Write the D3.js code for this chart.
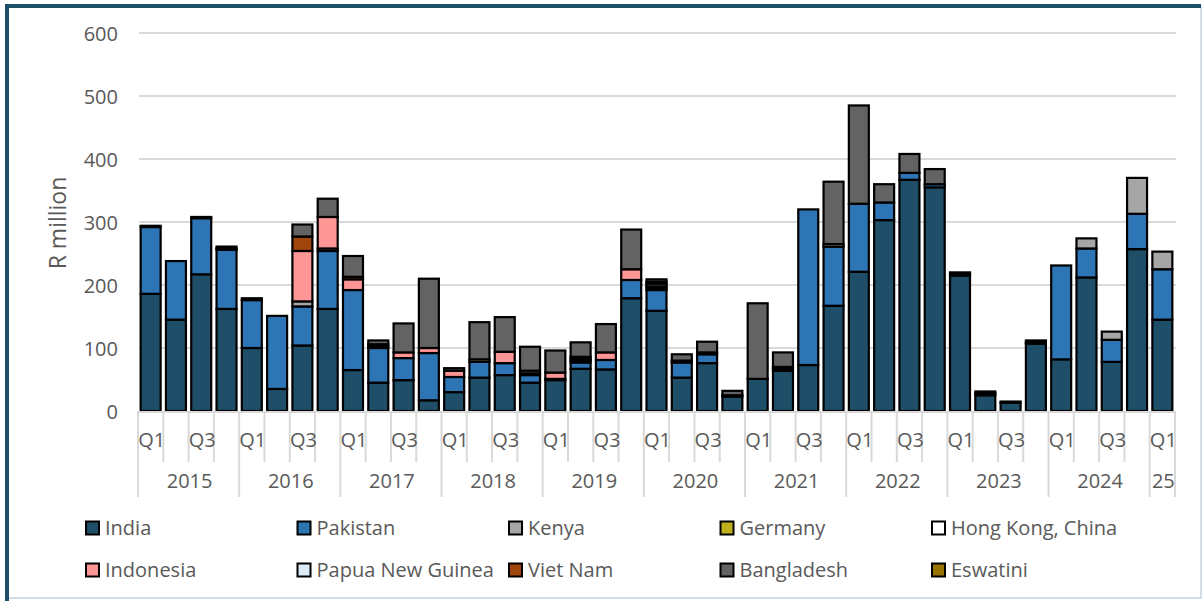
<!DOCTYPE html>
<html>
<head>
<meta charset="utf-8">
<script src="https://cdn.jsdelivr.net/npm/d3@7"></script>
<style>
  html, body { margin: 0; padding: 0; background: #ffffff; }
  svg { display: block; font-family: "Open Sans", "DejaVu Sans", sans-serif; }
</style>
</head>
<body>
<svg id="chart" width="1203" height="601"></svg>
<script>
// ---------- DATA ----------
const years = ["2015","2016","2017","2018","2019","2020","2021","2022","2023","2024","25"];
const quarterNames = ["Q1","Q2","Q3","Q4"];
const yTicks = [0,100,200,300,400,500,600];
const seriesNames = ["India","Pakistan","Kenya","Germany","Hong Kong, China","Indonesia","Papua New Guinea","Viet Nam","Bangladesh","Eswatini"];
const seriesColors = ["#1F4E69","#2E75B6","#A6A6A6","#BFB21F","#FFFFFF","#FF9696","#DDEBF7","#A0450C","#636363","#997300"];

const india      = [186,145,217,162, 100,35,104,162, 65,45,49,17, 30,53,57,45, 49,67,66,179, 159,53,76,23, 51,64,73,167, 221,303,367,355, 215,25,13,107, 82,212,78,257, 145];
const pakistan   = [106,93,89,94, 76,116,62,92, 127,55,35,75, 24,25,19,12, 0,10,15,29, 33,24,14,0, 0,0,247,94, 108,28,11,5, 0,0,0,0, 149,46,35,56, 80];
const kenya      = [0,0,0,0, 0,0,8,4, 0,0,0,0, 0,0,0,0, 0,0,0,0, 3,0,0,0, 0,0,0,0, 0,0,0,0, 0,0,0,0, 0,16,13,57, 28];
const germany    = [0,0,0,2, 0,0,0,0, 0,3,0,0, 0,0,0,3, 0,0,0,0, 3,0,0,0, 0,3,0,0, 0,0,0,0, 2,3,0,2, 0,0,0,0, 0];
const hongKong   = [2,0,2,3, 3,0,0,0, 0,3,0,0, 0,4,0,4, 2,3,0,0, 4,3,3,2, 0,3,0,4, 0,0,0,0, 3,3,2,3, 0,0,0,0, 0];
const indonesia  = [0,0,0,0, 0,0,80,50, 17,0,9,8, 10,0,18,0, 10,3,12,17, 0,0,0,0, 0,0,0,0, 0,0,0,0, 0,0,0,0, 0,0,0,0, 0];
const papuaNG    = [0,0,0,0, 0,0,0,0, 0,0,0,0, 0,0,0,0, 0,0,0,0, 3,0,0,0, 0,0,0,0, 0,0,0,0, 0,0,0,0, 0,0,0,0, 0];
const vietNam    = [0,0,0,0, 0,0,23,0, 4,0,0,0, 0,0,0,0, 0,3,0,0, 0,0,0,0, 0,0,0,0, 0,0,0,0, 0,0,0,0, 0,0,0,0, 0];
const bangladesh = [0,0,0,0, 0,0,19,29, 33,6,46,110, 4,59,55,38, 35,23,45,63, 4,10,17,7, 120,23,0,99, 156,29,30,24, 0,0,0,0, 0,0,0,0, 0];
const eswatini   = [0,0,0,0, 0,0,0,0, 0,0,0,0, 0,0,0,0, 0,0,0,0, 0,0,0,0, 0,0,0,0, 0,0,0,0, 0,0,0,0, 0,0,0,0, 0];

const seriesValues = [india, pakistan, kenya, germany, hongKong, indonesia, papuaNG, vietNam, bangladesh, eswatini];

// categories: year-quarter
const categories = [];
years.forEach((y, yi) => {
  const nq = (yi === years.length - 1) ? 1 : 4;
  for (let q = 0; q < nq; q++) categories.push({ key: y + "-" + quarterNames[q], year: y, q: quarterNames[q], qi: q });
});

const rows = categories.map((c, i) => {
  const r = { key: c.key };
  seriesNames.forEach((s, si) => r[s] = seriesValues[si][i]);
  return r;
});

// ---------- LAYOUT ----------
const svg = d3.select("#chart");
const textColor = "#595959";
const plotL = 138, plotR = 1175, plotT = 33, plotB = 411;

// frame
svg.append("rect").attr("x", 7).attr("y", 6).attr("width", 1194).attr("height", 592)
  .attr("fill", "#ffffff").attr("stroke", "#B8C6D0").attr("stroke-width", 1.2);
svg.append("line").attr("x1", 5).attr("x2", 1201).attr("y1", 6).attr("y2", 6)
  .attr("stroke", "#1F4E69").attr("stroke-width", 4);
svg.append("line").attr("x1", 7).attr("x2", 7).attr("y1", 4).attr("y2", 601)
  .attr("stroke", "#1F4E69").attr("stroke-width", 4);

const x = d3.scaleBand().domain(categories.map(c => c.key)).range([plotL, plotR])
  .paddingInner(0.21).paddingOuter(0.105);
const y = d3.scaleLinear().domain([0, 600]).range([plotB, plotT]);

// gridlines
svg.append("g").selectAll("line").data(yTicks.filter(t => t > 0)).join("line")
  .attr("x1", plotL + 1).attr("x2", plotR + 1)
  .attr("y1", d => y(d)).attr("y2", d => y(d))
  .attr("stroke", "#D9D9D9").attr("stroke-width", 2);

// y axis labels
const yAxis = d3.axisLeft(y).tickValues(yTicks).tickSize(0).tickPadding(0);
const yg = svg.append("g").attr("transform", `translate(118,0)`).call(yAxis);
yg.select(".domain").remove();
yg.selectAll("text").attr("fill", textColor).style("font-size", "20px")
  .style("font-family", '"Open Sans", sans-serif').attr("dy", "0.35em");

// y title
svg.append("text").attr("transform", "translate(66,223) rotate(-90)")
  .attr("text-anchor", "middle").attr("fill", textColor).style("font-size", "23px")
  .text("R million");

// stacked bars
const stack = d3.stack().keys(seriesNames);
const stacked = stack(rows);
svg.append("g").selectAll("g").data(stacked).join("g")
  .attr("fill", (d, i) => seriesColors[i])
  .selectAll("rect").data(d => d.filter(p => p[1] - p[0] > 0)).join("rect")
  .attr("x", d => x(d.data.key))
  .attr("width", x.bandwidth())
  .attr("y", d => y(d[1]))
  .attr("height", d => y(d[0]) - y(d[1]))
  .attr("stroke", "#000000").attr("stroke-width", 2.2);

// x axis baseline
svg.append("line").attr("x1", plotL).attr("x2", plotR + 1).attr("y1", plotB + 1).attr("y2", plotB + 1)
  .attr("stroke", "#D9D9D9").attr("stroke-width", 2);

// category boundary ticks
const step = x.step();
const boundaries = d3.range(categories.length + 1);
svg.append("g").selectAll("line").data(boundaries).join("line")
  .attr("x1", i => plotL + i * step).attr("x2", i => plotL + i * step)
  .attr("y1", plotB)
  .attr("y2", i => (i === categories.length || (i < categories.length && categories[i].qi === 0)) ? 497 : 462)
  .attr("stroke", "#D9D9D9").attr("stroke-width", 2);

// quarter labels (Q1, Q3)
svg.append("g").selectAll("text").data(categories.filter(c => c.qi % 2 === 0)).join("text")
  .attr("x", c => x(c.key) + x.bandwidth() / 2 + 1)
  .attr("y", 447)
  .attr("text-anchor", "middle").attr("fill", textColor).style("font-size", "20px")
  .text(c => c.q);

// year labels
const yearGroups = years.map(yr => {
  const idx = categories.map((c, i) => c.year === yr ? i : -1).filter(i => i >= 0);
  return { yr, mid: plotL + (idx[0] + (idx[idx.length - 1] + 1)) / 2 * step };
});
svg.append("g").selectAll("text").data(yearGroups).join("text")
  .attr("x", d => d.mid + 1).attr("y", 488)
  .attr("text-anchor", "middle").attr("fill", textColor).style("font-size", "20px")
  .text(d => d.yr);

// legend
const legCols = 5, legX0 = 86, legDX = 211.5, legY0 = 528, legDY = 42;
const leg = svg.append("g").selectAll("g").data(seriesNames).join("g")
  .attr("transform", (d, i) => `translate(${legX0 + (i % legCols) * legDX},${legY0 + Math.floor(i / legCols) * legDY})`);
leg.append("rect").attr("x", 0).attr("y", -6.5).attr("width", 13).attr("height", 13)
  .attr("fill", (d, i) => seriesColors[i]).attr("stroke", "#000").attr("stroke-width", 2);
leg.append("text").attr("x", 19).attr("y", 0).attr("dy", "0.35em")
  .attr("fill", textColor).style("font-size", "20px").text(d => d);
</script>
</body>
</html>
